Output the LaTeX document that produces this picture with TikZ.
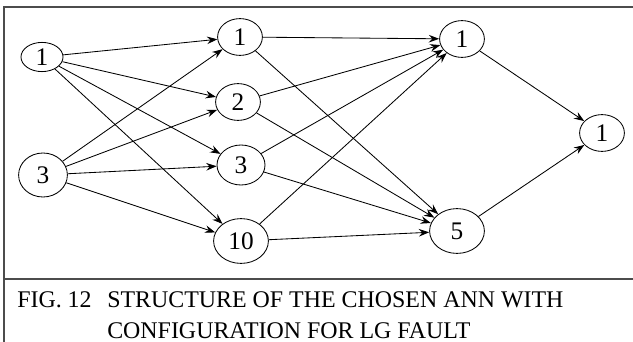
\documentclass[tikz,border=0pt]{standalone}
\usepackage{fontspec}
\setmainfont{Liberation Serif}
\usetikzlibrary{arrows.meta, shapes.geometric}

\begin{document}
\begin{tikzpicture}[
    x=0.025cm, y=-0.025cm,
    neuron/.style={draw, ellipse, inner sep=0pt, semithick,
                   minimum width=1.12cm, minimum height=0.92cm,
                   font=\fontsize{18}{20}\selectfont},
    wide/.style={minimum width=1.37cm, minimum height=1.12cm},
    arr/.style={-{Stealth[length=2.6mm, width=1.9mm, inset=0.9mm]}, semithick},
    frame/.style={line width=1.1pt, black!70},
    caption/.style={anchor=base west, inner sep=0pt, font=\fontsize{17}{20}\selectfont}
]
    \useasboundingbox (0,0) rectangle (633,342);

    % frame and caption rule
    \draw[frame] (633,7) -- (4,7) -- (4,342);
    \draw[frame] (4,279) -- (633,279);

    % input layer
    \node[neuron, minimum width=1.05cm, minimum height=0.73cm] (in1) at (42,57) {1};
    \node[neuron, minimum width=1.22cm, minimum height=1.1cm] (in3) at (43,175) {3};

    % hidden layer
    \node[neuron] (h1) at (240,37) {1};
    \node[neuron] (h2) at (238,102) {2};
    \node[neuron, minimum width=1.2cm, minimum height=1cm] (h3) at (241,165) {3};
    \node[neuron, wide] (h10) at (241,241) {10};

    % second hidden layer
    \node[neuron] (o1) at (462,39) {1};
    \node[neuron, wide] (o5) at (457,231) {5};

    % output
    \node[neuron] (out) at (602,133) {1};

    \foreach \h in {h1,h2,h3,h10} {
        \draw[arr] (in1) -- (\h);
        \draw[arr] (in3) -- (\h);
        \draw[arr] (\h) -- (o1);
        \draw[arr] (\h) -- (o5);
    }
    \draw[arr] (o1) -- (out);
    \draw[arr] (o5) -- (out);

    % caption
    \node[caption] (fig) at (17,307) {FIG. 12};
    \node[caption] (cap1) at (107,307) {STRUCTURE OF THE CHOSEN ANN WITH};
    \node[caption] (cap2) at (107,338) {CONFIGURATION FOR LG FAULT};
\end{tikzpicture}
\end{document}
